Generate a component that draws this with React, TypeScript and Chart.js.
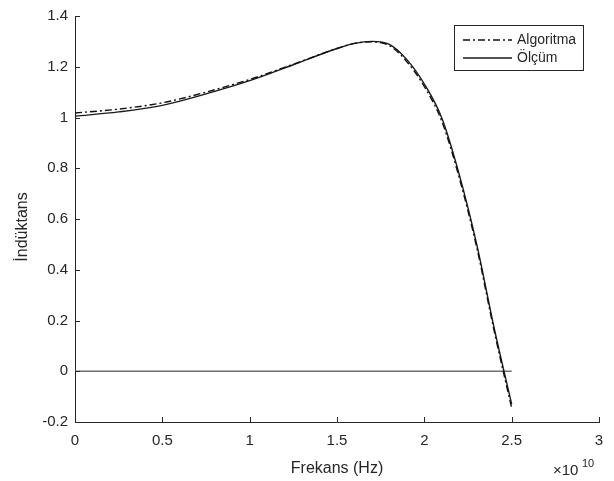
import React, { useEffect, useRef } from "react";
import { Chart, registerables } from "chart.js";

Chart.register(...registerables);

// Frequency in units of 1e10 Hz
const freq = [0, 0.25, 0.5, 0.75, 1.0, 1.25, 1.5, 1.6, 1.7, 1.8, 1.9, 2.0, 2.1, 2.2, 2.3, 2.4, 2.5];
const olcum = [1.005, 1.022, 1.048, 1.093, 1.145, 1.208, 1.272, 1.292, 1.3, 1.288, 1.228, 1.132, 0.998, 0.775, 0.5, 0.17, -0.13];
const algoritma = [1.018, 1.033, 1.058, 1.1, 1.15, 1.21, 1.272, 1.292, 1.298, 1.283, 1.22, 1.122, 0.985, 0.762, 0.488, 0.158, -0.145];
const zeroFreq = [0, 2.5];
const zeroVal = [0, 0];

const seriesLabels = ["Algoritma", "Ölçüm"];
const xTitle = "Frekans (Hz)";
const yTitle = "İndüktans";
const xExponent = "10";

const FONT = "'Liberation Sans', Arial, sans-serif";
const TXT = "#262626";

const inwardTicks = {
  id: "inwardTicks",
  afterDraw(chart: any) {
    const { ctx, scales } = chart;
    const xs = scales.x;
    const ys = scales.y;
    ctx.save();
    ctx.strokeStyle = TXT;
    ctx.lineWidth = 1;
    ctx.beginPath();
    xs.ticks.forEach((t: any) => {
      const px = Math.round(xs.getPixelForValue(t.value)) + 0.5;
      ctx.moveTo(px, ys.bottom);
      ctx.lineTo(px, ys.bottom - 5);
    });
    ys.ticks.forEach((t: any) => {
      const py = Math.round(ys.getPixelForValue(t.value)) + 0.5;
      ctx.moveTo(xs.left, py);
      ctx.lineTo(xs.left + 5, py);
    });
    ctx.stroke();

    // y axis title
    ctx.save();
    ctx.translate(23, 227);
    ctx.rotate(-Math.PI / 2);
    ctx.fillStyle = TXT;
    ctx.font = `16px ${FONT}`;
    ctx.textAlign = "center";
    ctx.textBaseline = "middle";
    ctx.fillText(yTitle, 0, 0);
    ctx.restore();

    // exponent label
    ctx.fillStyle = TXT;
    ctx.textBaseline = "alphabetic";
    ctx.textAlign = "left";
    ctx.font = `15px ${FONT}`;
    ctx.fillText("×10", 553, 475);
    ctx.font = `11px ${FONT}`;
    ctx.fillText(xExponent, 582, 467);

    // legend
    const bx = 454.5, by = 25.5, bw = 129, bh = 45;
    ctx.fillStyle = "#ffffff";
    ctx.fillRect(bx, by, bw, bh);
    ctx.strokeStyle = TXT;
    ctx.lineWidth = 1;
    ctx.strokeRect(bx, by, bw, bh);
    const rows = [40, 58];
    chart.data.datasets.slice(0, 2).forEach((ds: any, i: number) => {
      ctx.save();
      ctx.strokeStyle = ds.borderColor;
      ctx.lineWidth = 1.3;
      ctx.setLineDash(ds.borderDash || []);
      ctx.beginPath();
      ctx.moveTo(463, rows[i]);
      ctx.lineTo(512, rows[i]);
      ctx.stroke();
      ctx.restore();
      ctx.fillStyle = TXT;
      ctx.font = `14px ${FONT}`;
      ctx.textBaseline = "middle";
      ctx.textAlign = "left";
      ctx.fillText(ds.label, 517, rows[i]);
    });
    ctx.restore();
  },
};

export default function App() {
  const ref = useRef<HTMLCanvasElement | null>(null);
  useEffect(() => {
    const canvas = ref.current;
    if (!canvas) return;
    const chart = new Chart(canvas, {
      type: "line",
      data: {
        datasets: [
          {
            label: seriesLabels[0],
            data: freq.map((x, i) => ({ x, y: algoritma[i] })),
            borderColor: "#111111",
            borderWidth: 1.4,
            borderDash: [7, 3, 2, 3],
            pointRadius: 0,
            cubicInterpolationMode: "monotone",
          },
          {
            label: seriesLabels[1],
            data: freq.map((x, i) => ({ x, y: olcum[i] })),
            borderColor: "#1a1a1a",
            borderWidth: 1.4,
            pointRadius: 0,
            cubicInterpolationMode: "monotone",
          },
          {
            label: "zero",
            data: zeroFreq.map((x, i) => ({ x, y: zeroVal[i] })),
            borderColor: "#6e6e6e",
            borderWidth: 1.6,
            pointRadius: 0,
          },
        ],
      },
      options: {
        animation: false,
        responsive: true,
        maintainAspectRatio: false,
        layout: { padding: { top: 13, right: 15, left: 0, bottom: 0 } },
        plugins: { legend: { display: false }, tooltip: { enabled: false } },
        scales: {
          x: {
            type: "linear",
            min: 0,
            max: 3,
            grid: { display: false, drawTicks: false },
            border: { display: true, color: TXT, width: 1 },
            ticks: {
              stepSize: 0.5,
              padding: 10,
              color: TXT,
              font: { family: FONT, size: 15 },
              maxRotation: 0,
              callback: (v: any) => String(Number(Number(v).toFixed(1))),
            },
            title: {
              display: true,
              text: xTitle,
              color: TXT,
              font: { family: FONT, size: 16 },
              padding: { top: 0, bottom: 3 },
            },
            afterFit: (s: any) => {
              s.height = 59;
            },
          },
          y: {
            type: "linear",
            min: -0.2,
            max: 1.4,
            grid: { display: false, drawTicks: false },
            border: { display: true, color: TXT, width: 1 },
            ticks: {
              stepSize: 0.2,
              padding: 7,
              color: TXT,
              font: { family: FONT, size: 15 },
              callback: (v: any) => String(Number(Number(v).toFixed(1))),
            },
            afterFit: (s: any) => {
              s.width = 75;
            },
          },
        },
      },
      plugins: [inwardTicks],
    });
    return () => chart.destroy();
  }, []);

  return (
    <div style={{ position: "absolute", left: 0, top: 0, width: 614, height: 481, background: "#fff" }}>
      <canvas ref={ref} />
    </div>
  );
}
